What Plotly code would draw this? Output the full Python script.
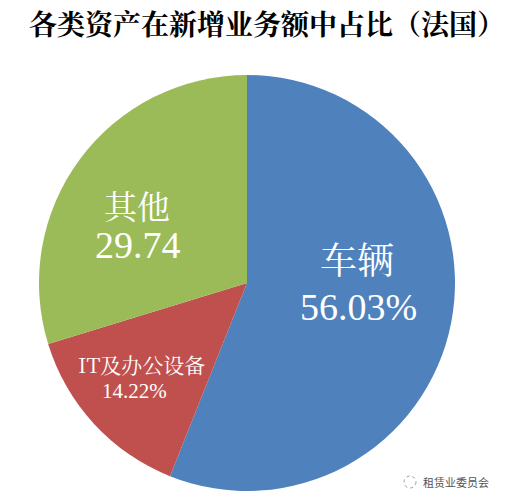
import plotly.graph_objects as go

# --------------------------------------------------------------------------

categories = ["车辆", "IT及办公设备", "其他"]
shares = [56.03, 14.22, 29.74]
share_labels = ["56.03%", "14.22%", "29.74"]
slice_colors = ["#4F81BD", "#C0504D", "#9BBB59"]
title_text = "各类资产在新增业务额中占比（法国）"
watermark_text = "租赁业委员会"

SERIF = "Noto Serif CJK SC, Liberation Serif, serif"
DIGITS = "Liberation Serif, serif"

WIDTH = 517
HEIGHT = 502


def add_text(fig, text, x, y, size, family=SERIF, color="white"):
    # x, y are window pixels, measured from the top left
    fig.add_annotation(
        text=text,
        x=x / WIDTH,
        y=1 - y / HEIGHT,
        xref="paper",
        yref="paper",
        xanchor="center",
        yanchor="middle",
        showarrow=False,
        font=dict(size=size, color=color, family=family),
    )


fig = go.Figure(
    go.Pie(
        labels=categories,
        values=shares,
        textinfo="none",
        marker=dict(colors=slice_colors, line=dict(width=0)),
        sort=False,
        direction="clockwise",
        rotation=0,
        domain=dict(x=[39 / WIDTH, 455 / WIDTH], y=[11 / HEIGHT, 427 / HEIGHT]),
        showlegend=False,
    )
)

fig.update_layout(
    width=WIDTH,
    height=HEIGHT,
    margin=dict(l=0, r=0, t=0, b=0),
    paper_bgcolor="white",
    title=dict(
        text=f"<b>{title_text}</b>",
        x=267 / WIDTH,
        xanchor="center",
        y=1 - 25 / HEIGHT,
        yanchor="middle",
        font=dict(size=28, color="black", family=SERIF),
    ),
)

add_text(fig, categories[0], 357, 258, 37)
add_text(fig, share_labels[0], 358, 307, 38, family=DIGITS)
add_text(fig, categories[1], 141, 364, 21)
add_text(fig, share_labels[1], 134, 391, 21, family=DIGITS)
add_text(fig, categories[2], 137, 204, 33)
add_text(fig, share_labels[2], 138, 245, 38, family=DIGITS)

# watermark icon and name at the bottom right
fig.add_shape(
    type="circle",
    xref="paper",
    yref="paper",
    x0=404 / WIDTH,
    x1=416 / WIDTH,
    y0=1 - 488 / HEIGHT,
    y1=1 - 476 / HEIGHT,
    line=dict(color="#9A9A9A", width=1, dash="dot"),
)
add_text(fig, watermark_text, 456, 482, 11, family="Noto Sans CJK SC", color="#555555")

# drop the default page margin so the figure fills the window exactly
fig.write_html(
    "out.html",
    config={"displayModeBar": False},
    post_script="document.body.style.margin = '0';",
)
